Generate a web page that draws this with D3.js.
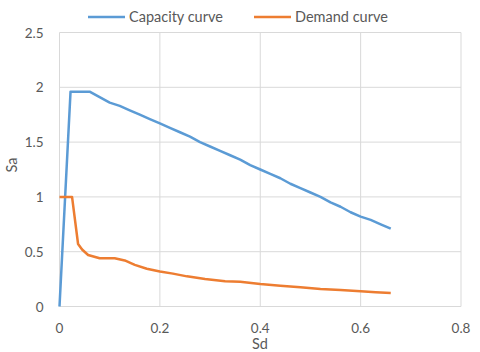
<!DOCTYPE html>
<meta charset="utf-8">
<style>
body { margin: 0; background: #fff; }
text { font-family: Lato, "Open Sans", sans-serif; fill: #595959; }
.grid line { stroke: #d9d9d9; stroke-width: 1; }
.line { fill: none; stroke-width: 2.5; stroke-linejoin: round; }
</style>
<body>
<script src="https://d3js.org/d3.v7.min.js"></script>
<script>

// capacity curve points (Sd, Sa)
var capacitySd = [0, 0.022, 0.06, 0.08, 0.10, 0.12, 0.14, 0.16, 0.18, 0.20, 0.22, 0.24, 0.26, 0.28, 0.30, 0.32,
                  0.34, 0.36, 0.38, 0.40, 0.42, 0.44, 0.46, 0.48, 0.50, 0.52, 0.54, 0.56, 0.58, 0.60, 0.62, 0.64, 0.66];
var capacitySa = [0, 1.96, 1.96, 1.91, 1.86, 1.83, 1.79, 1.75, 1.71, 1.67, 1.63, 1.59, 1.55, 1.50, 1.46, 1.42,
                  1.38, 1.34, 1.29, 1.25, 1.21, 1.17, 1.12, 1.08, 1.04, 1.00, 0.95, 0.91, 0.86, 0.82, 0.79, 0.75, 0.71];

// demand curve points (Sd, Sa)
var demandSd = [0, 0.025, 0.037, 0.045, 0.057, 0.08, 0.11, 0.13, 0.15, 0.174, 0.2, 0.226, 0.254, 0.29, 0.33,
                0.36, 0.40, 0.44, 0.48, 0.52, 0.56, 0.60, 0.63, 0.66];
var demandSa = [1, 1, 0.57, 0.52, 0.47, 0.44, 0.44, 0.42, 0.38, 0.345, 0.32, 0.30, 0.275, 0.25, 0.23,
                0.225, 0.205, 0.19, 0.175, 0.16, 0.15, 0.14, 0.13, 0.123];

var xTicks = [0, 0.2, 0.4, 0.6, 0.8];
var yTicks = [0, 0.5, 1, 1.5, 2, 2.5];

var seriesNames = ["Capacity curve", "Demand curve"];
var seriesColors = ["#5b9bd5", "#ed7d31"];

var margin = {top: 32.5, right: 19, bottom: 45.5, left: 59.5},
    width = 480 - margin.left - margin.right,
    height = 352 - margin.top - margin.bottom;

var x = d3.scaleLinear().domain([0, 0.8]).range([0, width]);
var y = d3.scaleLinear().domain([0, 2.5]).range([height, 0]);

var svg = d3.select("body").append("svg")
    .attr("width", 480)
    .attr("height", 352);

var g = svg.append("g")
    .attr("transform", "translate(" + margin.left + "," + margin.top + ")");

// gridlines
var grid = g.append("g").attr("class", "grid");
grid.selectAll("line.v").data(xTicks).enter().append("line")
    .attr("x1", function(d) { return x(d); }).attr("x2", function(d) { return x(d); })
    .attr("y1", 0).attr("y2", height);
grid.selectAll("line.h").data(yTicks).enter().append("line")
    .attr("y1", function(d) { return y(d); }).attr("y2", function(d) { return y(d); })
    .attr("x1", 0).attr("x2", width);

// tick labels
g.selectAll("text.xt").data(xTicks).enter().append("text")
    .attr("x", function(d) { return x(d); })
    .attr("y", height + 26)
    .attr("text-anchor", "middle")
    .style("font-size", "13.5px")
    .text(function(d) { return d; });

g.selectAll("text.yt").data(yTicks).enter().append("text")
    .attr("x", -16)
    .attr("y", function(d) { return y(d) + 5; })
    .attr("text-anchor", "end")
    .style("font-size", "13.5px")
    .text(function(d) { return d; });

// lines
var line = d3.line()
    .x(function(d) { return x(d[0]); })
    .y(function(d) { return y(d[1]); });

var series = [
  d3.zip(capacitySd, capacitySa),
  d3.zip(demandSd, demandSa)
];

g.selectAll("path.line").data(series).enter().append("path")
    .attr("class", "line")
    .attr("stroke", function(d, i) { return seriesColors[i]; })
    .attr("d", line);

// axis titles
svg.append("text")
    .attr("x", 260).attr("y", 349)
    .attr("text-anchor", "middle")
    .style("font-size", "14.5px")
    .text("Sd");

svg.append("text")
    .attr("transform", "translate(17,165) rotate(-90)")
    .attr("text-anchor", "middle")
    .style("font-size", "14.5px")
    .text("Sa");

// legend
var legendX = [88, 254];
var leg = svg.selectAll("g.leg").data(seriesNames).enter().append("g")
    .attr("transform", function(d, i) { return "translate(" + legendX[i] + ",17)"; });
leg.append("line")
    .attr("x1", 0).attr("x2", 37)
    .attr("stroke", function(d, i) { return seriesColors[i]; })
    .attr("stroke-width", 2.5);
leg.append("text")
    .attr("x", 41).attr("y", 5)
    .style("font-size", "14.5px")
    .text(function(d) { return d; });

</script>
</body>
